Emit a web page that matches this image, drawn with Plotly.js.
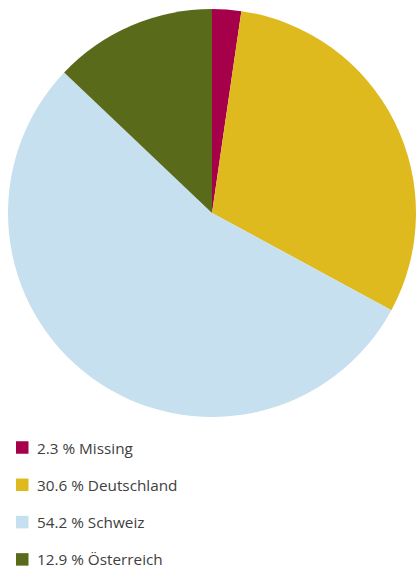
<!DOCTYPE html>
<html>
<head>
<meta charset="utf-8">
<script src="https://cdn.plot.ly/plotly-3.0.1.min.js"></script>
<style>html,body{margin:0;padding:0;background:#fff;}#chart{width:416px;height:568px;}</style>
</head>
<body>
<div id="chart"></div>
<script>
const labels = ["Missing", "Deutschland", "Schweiz", "Österreich"];
const values = [2.3, 30.6, 54.2, 12.9];
const colors = ["#a6004a", "#dfba1f", "#c6e0f0", "#5a6a1b"];

const W = 416, H = 568;
const legendTop = 447.5, legendStep = 37.3, sq = 12.5, sqX = 16, txtX = 35;

const shapes = [], annotations = [];
labels.forEach((lab, i) => {
  const cy = legendTop + i * legendStep;
  shapes.push({
    type: "rect", xref: "paper", yref: "paper",
    x0: sqX / W, x1: (sqX + sq) / W,
    y0: 1 - (cy + sq / 2) / H, y1: 1 - (cy - sq / 2) / H,
    fillcolor: colors[i], line: {width: 0}
  });
  annotations.push({
    xref: "paper", yref: "paper", x: txtX / W, y: 1 - cy / H,
    xanchor: "left", yanchor: "middle", showarrow: false,
    text: values[i].toFixed(1) + " % " + lab,
    font: {family: "Open Sans, sans-serif", size: 15.3, color: "#404040"}
  });
});

const data = [{
  type: "pie",
  labels: labels,
  values: values,
  marker: {colors: colors, line: {width: 0}},
  sort: false,
  direction: "clockwise",
  rotation: 0,
  textinfo: "none",
  hoverinfo: "skip",
  showlegend: false,
  domain: {x: [8 / W, 416 / W], y: [1 - 417 / H, 1 - 9 / H]}
}];

const layout = {
  width: W, height: H,
  margin: {l: 0, r: 0, t: 0, b: 0},
  paper_bgcolor: "#fff",
  showlegend: false,
  shapes: shapes,
  annotations: annotations
};

Plotly.newPlot("chart", data, layout, {displayModeBar: false, staticPlot: true});
</script>
</body>
</html>
